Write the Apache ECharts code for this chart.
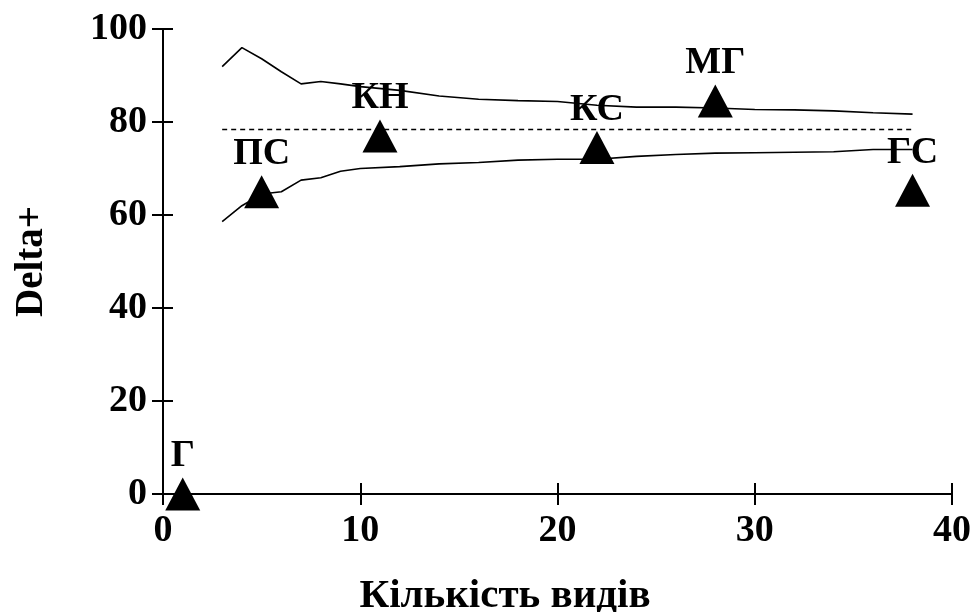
<!DOCTYPE html>
<html>
<head>
<meta charset="utf-8">
<script src="https://cdn.jsdelivr.net/npm/echarts@6/dist/echarts.min.js"></script>
<style>html,body{margin:0;padding:0;background:#fff;}#c{width:974px;height:612px;}</style>
</head>
<body>
<div id="c"></div>
<script>
// Station points
var pointNames = ['Г', 'ПС', 'КН', 'КС', 'МГ', 'ГС'];
var pointX = [1, 5, 11, 22, 28, 38];
var pointY = [0, 65, 77, 74.5, 84.5, 65.3];

// Funnel (95% probability limits) and mean
var funnelX = [3, 4, 5, 6, 7, 8, 9, 10, 12, 14, 16, 18, 20, 22, 24, 26, 28, 30, 32, 34, 36, 38];
var upperY = [91.9, 96.0, 93.6, 90.8, 88.2, 88.7, 88.2, 87.6, 86.8, 85.6, 84.9, 84.6, 84.4, 83.6, 83.2, 83.2, 83.0, 82.7, 82.6, 82.4, 82.0, 81.7];
var lowerY = [58.6, 62.0, 64.5, 65.0, 67.5, 68.0, 69.4, 70.0, 70.4, 71.0, 71.3, 71.8, 72.0, 72.0, 72.6, 73.0, 73.3, 73.4, 73.5, 73.6, 74.1, 74.1];
var meanX = [3, 38];
var meanY = [78.4, 78.4];

var xTicks = [0, 10, 20, 30, 40];
var yTicks = [0, 20, 40, 60, 80, 100];
var xTitle = 'Кількість видів';
var yTitle = 'Delta+';

function zip(a, b) { return a.map(function (v, i) { return [v, b[i]]; }); }

var FONT = '"Liberation Serif", "Times New Roman", serif';
var chart = echarts.init(document.getElementById('c'), null, { renderer: 'canvas' });

var baseX = { type: 'value', min: xTicks[0], max: xTicks[xTicks.length - 1], interval: 10 };
var baseY = { type: 'value', min: yTicks[0], max: yTicks[yTicks.length - 1], interval: 20 };

chart.setOption({
  animation: false,
  backgroundColor: '#fff',
  title: {
    text: xTitle,
    left: 500, top: 571, textAlign: 'center',
    textStyle: { fontFamily: FONT, fontWeight: 'bold', fontSize: 41, color: '#000' }
  },
  grid: { left: 163, right: 21, top: 29, bottom: 118, containLabel: false },
  xAxis: [
    Object.assign({}, baseX, {
      axisLine: { show: true, lineStyle: { color: '#000', width: 2 } },
      axisTick: { show: true, inside: false, length: 11, lineStyle: { color: '#000', width: 2 } },
      axisLabel: { margin: 18, fontFamily: FONT, fontWeight: 'bold', fontSize: 38, color: '#000' },
      splitLine: { show: false }
    }),
    Object.assign({}, baseX, {
      position: 'bottom',
      axisLine: { show: false },
      axisTick: { show: true, inside: true, length: 11, lineStyle: { color: '#000', width: 2 } },
      axisLabel: { show: false },
      splitLine: { show: false }
    })
  ],
  yAxis: [
    Object.assign({}, baseY, {
      name: yTitle,
      nameLocation: 'middle',
      nameGap: 112,
      nameTextStyle: { fontFamily: FONT, fontWeight: 'bold', fontSize: 39, color: '#000' },
      axisLine: { show: true, lineStyle: { color: '#000', width: 2 } },
      axisTick: { show: true, inside: false, length: 11, lineStyle: { color: '#000', width: 2 } },
      axisLabel: { margin: 16, fontFamily: FONT, fontWeight: 'bold', fontSize: 38, color: '#000' },
      splitLine: { show: false }
    }),
    Object.assign({}, baseY, {
      position: 'left',
      axisLine: { show: false },
      axisTick: { show: true, inside: true, length: 10, lineStyle: { color: '#000', width: 2 } },
      axisLabel: { show: false },
      splitLine: { show: false }
    })
  ],
  series: [
    {
      type: 'line', data: zip(funnelX, upperY), showSymbol: false, symbol: 'none',
      lineStyle: { color: '#000', width: 1.6 }, z: 2
    },
    {
      type: 'line', data: zip(funnelX, lowerY), showSymbol: false, symbol: 'none',
      lineStyle: { color: '#000', width: 1.6 }, z: 2
    },
    {
      type: 'line', data: zip(meanX, meanY), showSymbol: false, symbol: 'none',
      lineStyle: { color: '#000', width: 1.6, type: [5, 4] }, z: 2
    },
    {
      type: 'scatter', clip: false,
      data: pointX.map(function (x, i) { return { value: [x, pointY[i]], name: pointNames[i] }; }),
      symbol: 'triangle', symbolSize: [35, 33],
      itemStyle: { color: '#000', opacity: 1 },
      label: {
        show: true, position: 'top', distance: 2,
        formatter: function (p) { return p.name; },
        fontFamily: FONT, fontWeight: 'bold', fontSize: 38, color: '#000'
      },
      z: 3
    }
  ]
});
</script>
</body>
</html>
